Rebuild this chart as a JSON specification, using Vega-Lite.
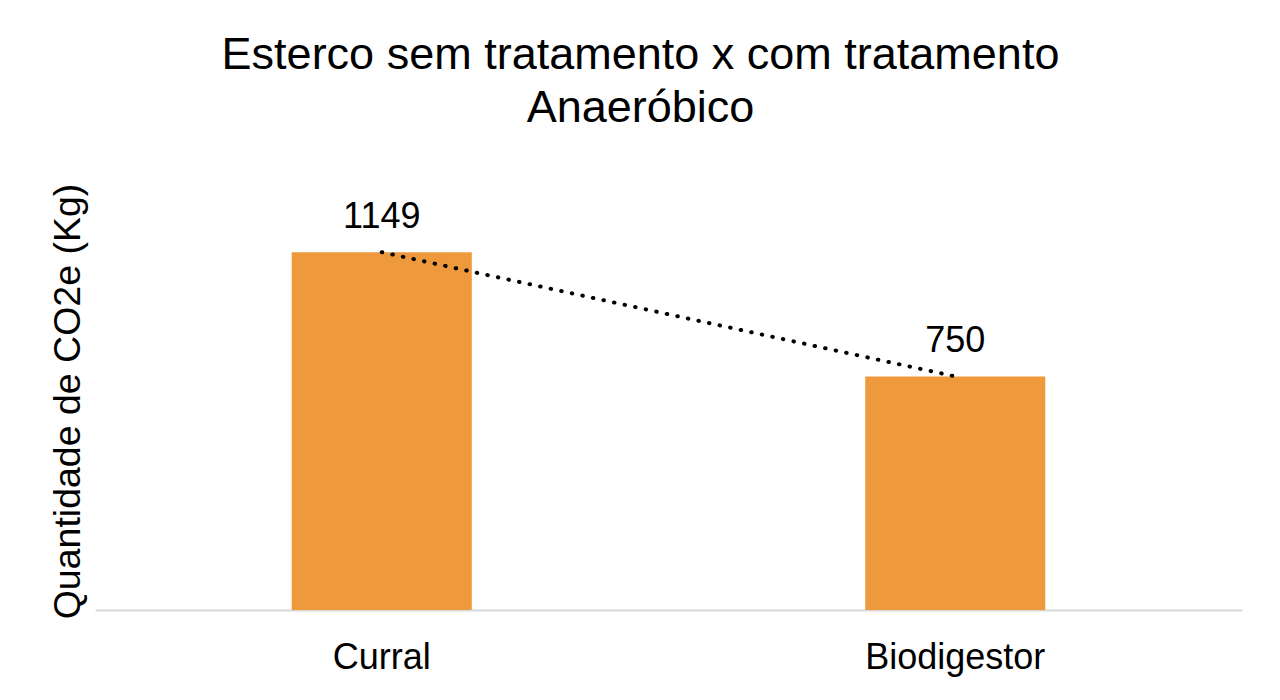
{
  "$schema": "https://vega.github.io/schema/vega-lite/v6.json",
  "autosize": "none",
  "width": 1147,
  "height": 436,
  "padding": {"left": 95, "top": 174, "right": 38, "bottom": 90},
  "background": "white",
  "config": {
    "font": "Liberation Sans",
    "view": {"stroke": null}
  },
  "title": {
    "text": ["Esterco sem tratamento x com tratamento", "Anaeróbico"],
    "fontSize": 45,
    "fontWeight": "normal",
    "color": "black",
    "lineHeight": 53,
    "anchor": "middle",
    "dx": -28,
    "offset": 43
  },
  "data": {
    "values": [
      {"local": "Curral", "co2e": 1149},
      {"local": "Biodigestor", "co2e": 750}
    ]
  },
  "encoding": {
    "x": {
      "field": "local",
      "type": "nominal",
      "sort": null,
      "scale": {"paddingInner": 0, "paddingOuter": 0},
      "axis": {
        "title": null,
        "labelAngle": 0,
        "labelFontSize": 36,
        "labelColor": "black",
        "labelBaseline": "alphabetic",
        "labelPadding": 58,
        "labelLimit": 0,
        "ticks": false,
        "tickSize": 0,
        "domainColor": "#D9D9D9",
        "domainWidth": 2
      }
    },
    "y": {
      "field": "co2e",
      "type": "quantitative",
      "scale": {"domain": [0, 1400]},
      "axis": {
        "title": "Quantidade de CO2e (Kg)",
        "titleFontSize": 37.5,
        "titleFontWeight": "normal",
        "titleColor": "black",
        "titleAngle": -90,
        "titleX": -16,
        "titleY": 227,
        "titleAlign": "center",
        "titleBaseline": "alphabetic",
        "labels": false,
        "ticks": false,
        "domain": false,
        "grid": false
      }
    }
  },
  "layer": [
    {
      "mark": {"type": "bar", "color": "#EE9A3C", "width": {"band": 0.314}}
    },
    {
      "mark": {
        "type": "line",
        "color": "black",
        "strokeWidth": 4,
        "strokeCap": "round",
        "strokeDash": [0.5, 10.3]
      }
    },
    {
      "mark": {
        "type": "text",
        "fontSize": 36,
        "color": "black",
        "baseline": "alphabetic",
        "dy": -24
      },
      "encoding": {"text": {"field": "co2e", "type": "quantitative"}}
    }
  ]
}
